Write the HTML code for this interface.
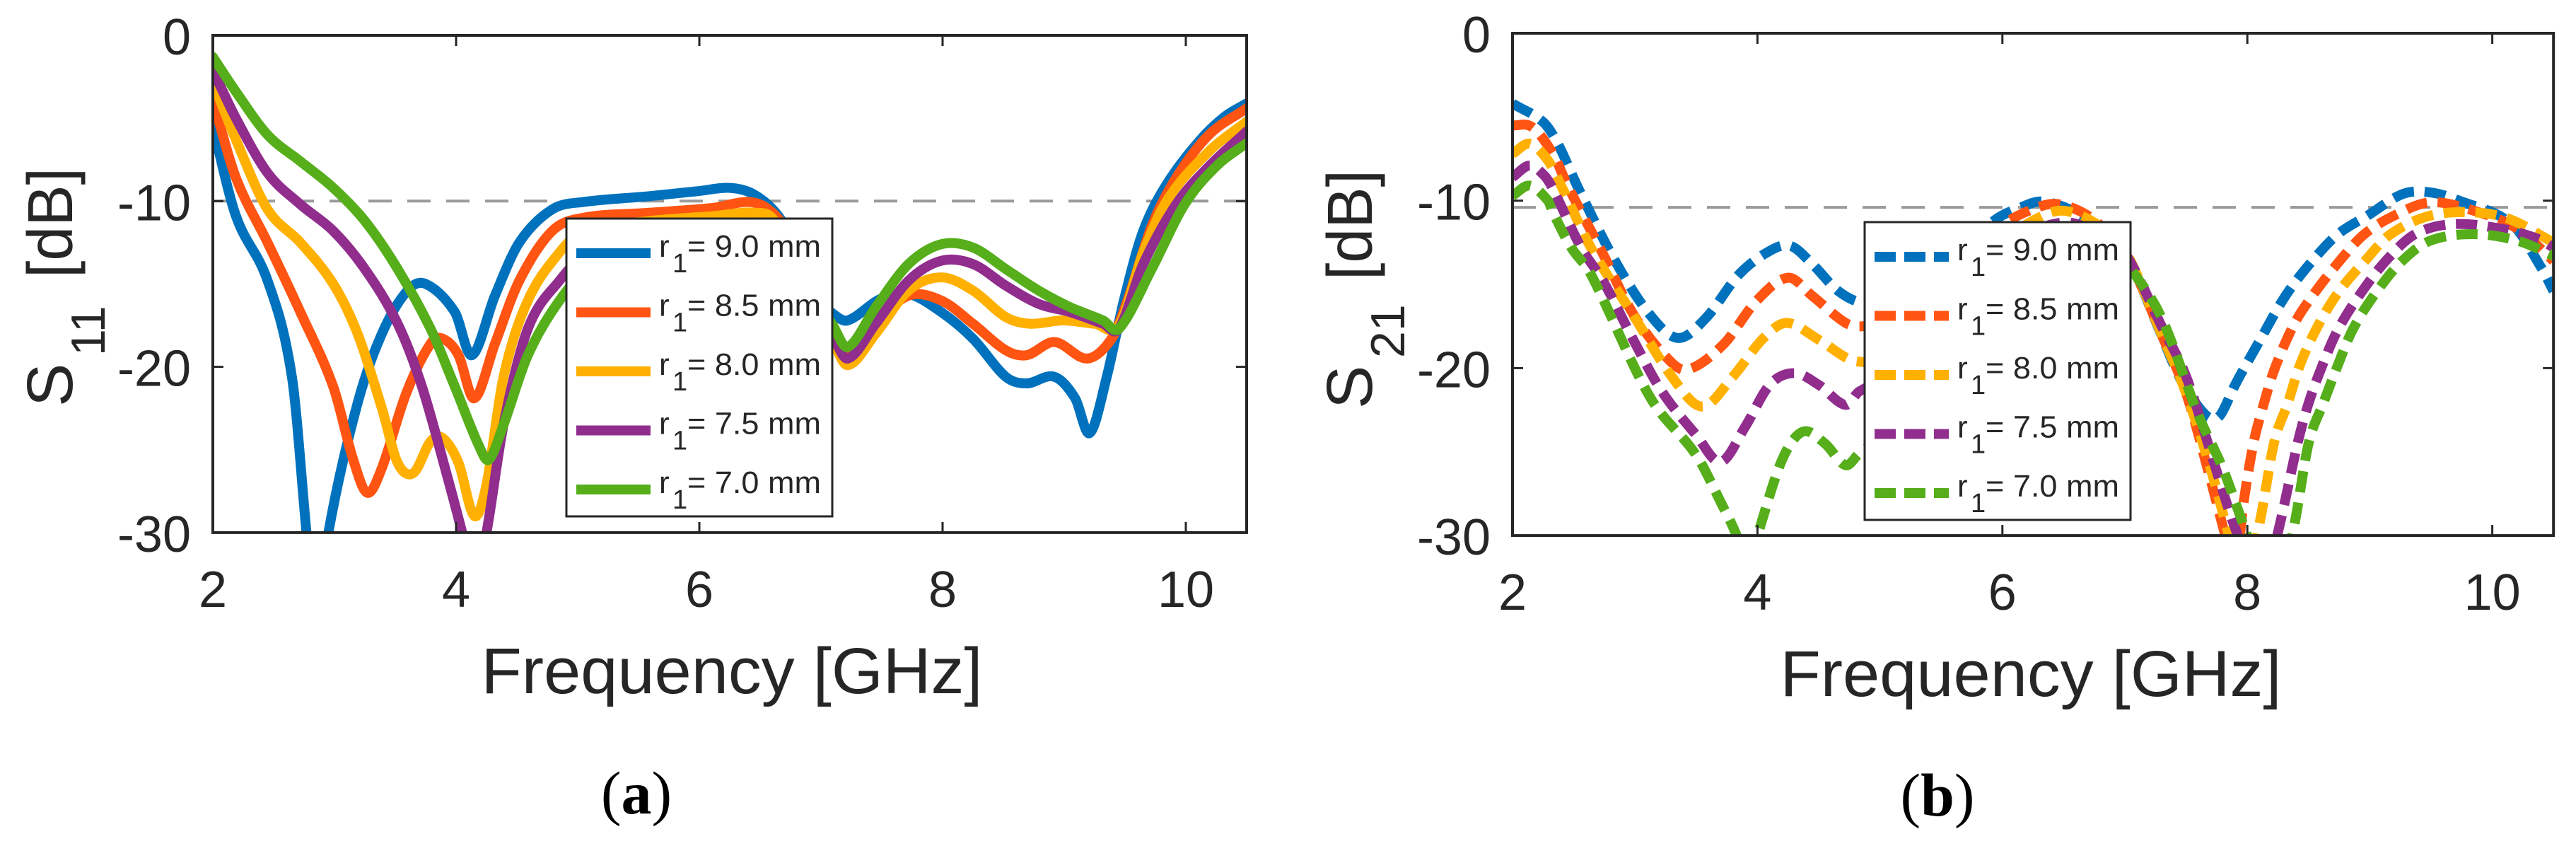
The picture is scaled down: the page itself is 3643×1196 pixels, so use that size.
<!DOCTYPE html>
<html>
<head>
<meta charset="utf-8">
<style>
  html,body{margin:0;padding:0;background:#fff;}
  svg{display:block;}
  text{font-family:"Liberation Sans",Arial,sans-serif;fill:#262626;}
  .cap{font-family:"Liberation Serif","Times New Roman",serif;fill:#000;}
</style>
</head>
<body>
<svg id="fig" xmlns="http://www.w3.org/2000/svg" width="3643" height="1196" viewBox="0 0 3643 1196">
  <rect x="0" y="0" width="3643" height="1196" fill="#fff"/>
  <defs>
    <clipPath id="clipA"><rect x="301" y="50" width="1460" height="703"/></clipPath>
    <clipPath id="clipB"><rect x="2139" y="47" width="1472" height="710"/></clipPath>
  </defs>
  <g id="panelA"></g>
  <g id="panelB"></g>

  <!-- Y axis titles -->
  <g>
    <text transform="translate(102,575) rotate(-90)" font-size="92">S</text>
    <text transform="translate(148,503) rotate(-90)" font-size="68">11</text>
    <text transform="translate(102,393) rotate(-90)" font-size="90" textLength="156" lengthAdjust="spacingAndGlyphs">[dB]</text>
  </g>
  <g>
    <text transform="translate(1940,578) rotate(-90)" font-size="92">S</text>
    <text transform="translate(1986,506) rotate(-90)" font-size="68">21</text>
    <text transform="translate(1940,396) rotate(-90)" font-size="90" textLength="156" lengthAdjust="spacingAndGlyphs">[dB]</text>
  </g>

  <!-- X axis titles -->
  <text x="1035" y="980" font-size="92" text-anchor="middle" textLength="709" lengthAdjust="spacingAndGlyphs">Frequency [GHz]</text>
  <text x="2872" y="984" font-size="92" text-anchor="middle" textLength="709" lengthAdjust="spacingAndGlyphs">Frequency [GHz]</text>

  <!-- captions -->
  <text class="cap" x="900" y="1150" font-size="86" text-anchor="middle">(<tspan font-weight="bold">a</tspan>)</text>
  <text class="cap" x="2740" y="1153" font-size="86" text-anchor="middle">(<tspan font-weight="bold">b</tspan>)</text>
</svg>

<script>
// ---------- Panel (a) S11 data ----------
const labels = ["9.0", "8.5", "8.0", "7.5", "7.0"];
const colors = ["#0072BD", "#FF5412", "#FFB000", "#902D8D", "#55AE1A"];
const xTicks = [2, 4, 6, 8, 10];
const yTicks = [0, -10, -20, -30];

const a90x = [2,2.19,2.45,2.65,2.77,2.85,2.95,3.19,3.39,3.6,3.75,3.99,4.13,4.32,4.52,4.79,5.05,5.59,5.99,6.25,6.45,6.65,6.85,7.0,7.1,7.22,7.49,7.72,7.99,8.25,8.52,8.69,8.92,9.09,9.21,9.35,9.49,9.65,9.85,10.12,10.32,10.5];
const a90y = [-5.5,-10.9,-14.8,-20.6,-30,-36,-30,-22.2,-18,-15.4,-15.0,-16.7,-19.3,-15.7,-12.5,-10.5,-10.05,-9.7,-9.4,-9.2,-9.6,-10.9,-13.5,-16,-16.8,-17.2,-15.9,-15.6,-16.7,-18.3,-20.6,-21,-20.6,-21.9,-24,-20.6,-16,-11.8,-8.9,-6.3,-4.9,-4.1];
const a85x = [2,2.19,2.45,2.72,2.99,3.15,3.27,3.39,3.59,3.79,3.89,4.02,4.15,4.32,4.52,4.79,5.05,5.59,6.12,6.39,6.55,6.72,6.9,7.09,7.22,7.45,7.72,7.99,8.25,8.52,8.69,8.92,9.19,9.39,9.52,9.72,9.92,10.19,10.5];
const a85y = [-3.9,-8.6,-12.5,-16.7,-21.2,-25.5,-27.6,-26.1,-21.6,-18.6,-18.3,-19.3,-21.9,-18.6,-14.8,-11.8,-11,-10.7,-10.4,-10.05,-10.4,-11.8,-15,-18,-19.3,-17.4,-15.7,-16,-17.4,-19,-19.3,-18.5,-19.5,-18.3,-16,-11.5,-8.6,-6,-4.4];
const a80x = [2,2.19,2.45,2.72,2.99,3.19,3.39,3.52,3.65,3.79,3.89,4.02,4.15,4.25,4.39,4.59,4.85,5.05,5.59,6.12,6.45,6.62,6.85,7.09,7.22,7.45,7.72,7.99,8.25,8.52,8.72,8.99,9.25,9.45,9.65,9.85,10.19,10.5];
const a80y = [-2.8,-6.3,-10.5,-12.5,-15,-18,-22.5,-25.8,-26.4,-24.5,-24.3,-25.8,-29,-27.1,-20.6,-16,-13.1,-11.8,-11.2,-10.9,-10.7,-11.2,-15,-18.3,-19.9,-18,-15.4,-14.6,-15.4,-17,-17.4,-17.2,-17.4,-17.5,-13.1,-9.9,-7,-5.2];
const a75x = [2,2.19,2.45,2.72,2.99,3.25,3.52,3.72,3.92,4.05,4.15,4.25,4.39,4.59,4.85,5.1,5.6,6.2,6.6,6.9,7.09,7.22,7.45,7.72,7.99,8.25,8.52,8.79,9.05,9.32,9.45,9.65,9.92,10.19,10.5];
const a75y = [-2.1,-5,-8.3,-10.2,-11.8,-14.1,-17.4,-21.2,-26.4,-30,-33,-30,-23.5,-17.7,-14.8,-13,-11.8,-11.5,-12,-15.5,-18,-19.5,-17.4,-14.8,-13.6,-13.8,-15.1,-16.2,-16.7,-17.4,-17.7,-13.8,-10.2,-7.9,-5.8];
const a70x = [2,2.19,2.45,2.72,2.99,3.25,3.52,3.79,3.99,4.19,4.27,4.39,4.59,4.85,5.1,5.6,6.2,6.6,6.9,7.09,7.22,7.45,7.72,7.99,8.25,8.52,8.79,9.05,9.32,9.45,9.72,9.99,10.25,10.5];
const a70y = [-1.3,-3.4,-6,-7.6,-9.2,-11.2,-14.1,-17.7,-21.2,-24.8,-25.6,-23.5,-19.3,-16,-14,-12.5,-12,-12.5,-15.5,-17.4,-18.8,-16.4,-13.8,-12.6,-12.8,-14.1,-15.4,-16.4,-17.2,-17.7,-14.1,-10.2,-7.9,-6.5];

// ---------- Panel (b) S21 data ----------
const b90x = [2,2.25,2.37,2.54,2.83,3.11,3.35,3.58,3.85,4.1,4.27,4.45,4.66,4.86,5.2,5.6,5.93,6.15,6.33,6.6,6.85,7.04,7.28,7.45,7.6,7.7,7.78,7.9,8.09,8.31,8.53,8.74,8.98,9.27,9.49,9.73,10.16,10.4,10.5];
const b90y = [-4.2,-5.3,-6.6,-9.3,-13.5,-16.7,-18.2,-17,-14.4,-13,-12.7,-13.8,-15.4,-16.1,-16,-13.5,-11.2,-10.4,-10.05,-10.7,-12,-13.6,-17.7,-20.6,-22.3,-23,-22.8,-21,-18.5,-15.7,-13.6,-12,-10.9,-9.6,-9.5,-10,-11.4,-14,-15.4];
const b85x = [2,2.16,2.33,2.45,2.74,2.98,3.25,3.42,3.72,3.99,4.25,4.45,4.72,4.86,5.2,5.6,6.0,6.25,6.45,6.7,6.9,7.04,7.3,7.5,7.69,7.82,7.9,7.97,8.05,8.12,8.22,8.38,8.53,8.72,8.94,9.17,9.49,9.85,10.21,10.5];
const b85y = [-5.5,-5.6,-7.2,-9.1,-13.2,-16.7,-19.3,-20.1,-18.6,-16,-14.6,-15.7,-17.3,-17.5,-17,-14.5,-11.5,-10.5,-10.2,-10.9,-12.2,-13.6,-18,-21.5,-26.4,-30,-32,-28,-24.5,-22.5,-20.1,-17.4,-15.7,-13.9,-12.1,-11,-10.1,-10.6,-11.7,-13.6];
const b80x = [2,2.14,2.29,2.41,2.64,3.0,3.3,3.55,3.8,4.05,4.24,4.5,4.81,5.2,5.6,6.0,6.3,6.5,6.75,6.9,7.04,7.3,7.5,7.7,7.85,7.97,8.05,8.12,8.22,8.33,8.43,8.575,8.74,8.96,9.17,9.49,9.85,10.14,10.5];
const b80y = [-7.2,-6.6,-7.6,-9.3,-12.8,-17,-20.5,-22.3,-20.5,-18.2,-17.3,-18.3,-19.6,-19,-16,-12.5,-11,-10.6,-11.3,-12.3,-13.5,-18,-21.5,-26,-30,-33,-31,-28.5,-24.4,-22.1,-19.8,-17.5,-15.5,-13.6,-12,-10.9,-10.7,-11.1,-12.5];
const b75x = [2,2.14,2.26,2.33,2.56,2.74,3.0,3.22,3.5,3.7,3.9,4.1,4.3,4.5,4.72,4.83,5.2,5.6,6.0,6.5,6.9,7.04,7.3,7.5,7.7,7.85,7.97,8.1,8.26,8.41,8.5,8.62,8.74,8.91,9.13,9.37,9.68,10.09,10.38,10.5];
const b75y = [-8.6,-7.9,-8.5,-9.3,-12.8,-14.8,-18.5,-21.4,-24,-25.6,-23.5,-21,-20.3,-21,-22.2,-21.4,-20,-16.5,-13,-11.3,-12.5,-13.6,-17.5,-20.5,-25,-28.5,-31,-34,-29.5,-24.5,-22.1,-19.7,-17.7,-15.7,-13.6,-12,-11.4,-11.7,-12.3,-12.8];
const b70x = [2,2.14,2.29,2.33,2.48,2.64,3.12,3.5,3.7,3.83,3.92,4.0,4.2,4.37,4.55,4.72,4.83,5.2,5.6,6.0,6.5,6.9,7.04,7.3,7.6,7.8,7.95,8.1,8.22,8.38,8.5,8.62,8.74,8.86,9.03,9.25,9.49,9.85,10.21,10.5];
const b70y = [-9.7,-9.1,-10,-10.7,-12.8,-14.4,-21.7,-25.2,-28,-30,-32,-30,-25.5,-23.8,-24.5,-25.8,-25.1,-23,-18,-14,-12,-13,-14,-17,-22.8,-26,-29,-32,-34,-29.5,-24.5,-22.1,-19.8,-17.7,-15.7,-13.7,-12.4,-12,-12.4,-13.3];

const refLevelA = -10;
const refLevelB = -10.4;

const NS = "http://www.w3.org/2000/svg";
function mk(tag, attrs, parent) {
  const e = document.createElementNS(NS, tag);
  for (const k in attrs) e.setAttribute(k, attrs[k]);
  if (parent) parent.appendChild(e);
  return e;
}

function smoothPath(xs, ys, X, Y) {
  const n = xs.length;
  const m = [];
  for (let i = 0; i < n; i++) {
    if (i === 0) m.push((ys[1] - ys[0]) / (xs[1] - xs[0]));
    else if (i === n - 1) m.push((ys[n-1] - ys[n-2]) / (xs[n-1] - xs[n-2]));
    else m.push((ys[i+1] - ys[i-1]) / (xs[i+1] - xs[i-1]));
  }
  let d = "M" + X(xs[0]).toFixed(1) + "," + Y(ys[0]).toFixed(1);
  for (let i = 0; i < n - 1; i++) {
    const h = xs[i+1] - xs[i];
    const c1x = xs[i] + h / 3, c1y = ys[i] + m[i] * h / 3;
    const c2x = xs[i+1] - h / 3, c2y = ys[i+1] - m[i+1] * h / 3;
    d += " C" + X(c1x).toFixed(1) + "," + Y(c1y).toFixed(1) + " " +
         X(c2x).toFixed(1) + "," + Y(c2y).toFixed(1) + " " +
         X(xs[i+1]).toFixed(1) + "," + Y(ys[i+1]).toFixed(1);
  }
  return d;
}

function drawPanel(g, cfg) {
  const X = v => cfg.x0 + (v - 2) * cfg.kx;
  const Y = v => cfg.top + (-v) * cfg.ky;
  const left = cfg.x0, right = X(10.5), top = cfg.top, bottom = Y(-30);

  // reference line
  const ref = mk("line", {x1: left, x2: right, y1: Y(cfg.ref), y2: Y(cfg.ref),
    stroke: "#9a9a9a", "stroke-width": 4, "stroke-dasharray": "33 22"}, g);
  
  

  // series
  const sg = mk("g", {"clip-path": cfg.clip}, g);
  
  
  cfg.series.forEach((s, i) => {
    const p = mk("path", {d: smoothPath(s[0], s[1], X, Y), fill: "none", stroke: colors[i],
      "stroke-width": 14, "stroke-linejoin": "round",
      "stroke-linecap": cfg.dashed ? "butt" : "round"}, sg);
    if (cfg.dashed) p.setAttribute("stroke-dasharray", "30 15");
    
    
  });

  // legend
  const lg = mk("g", {}, g);
  
  
  mk("rect", {x: cfg.lx, y: cfg.ly, width: 376, height: 421, fill: "#fff",
    stroke: "#262626", "stroke-width": 3}, lg);
  labels.forEach((lab, i) => {
    const base = cfg.ly + 54 + i * 83.5;
    const e = mk("g", {}, lg);
    
    
    const ln = mk("line", {x1: cfg.lx + 14, x2: cfg.lx + 119, y1: base - 5, y2: base - 5,
      stroke: colors[i], "stroke-width": 14}, e);
    if (cfg.dashed) ln.setAttribute("stroke-dasharray", "30 12");
    const t1 = mk("text", {x: cfg.lx + 131, y: base, "font-size": 44}, e);
    t1.textContent = "r";
    const t2 = mk("text", {x: cfg.lx + 150, y: base + 22, "font-size": 38}, e);
    t2.textContent = "1";
    const t3 = mk("text", {x: cfg.lx + 171, y: base, "font-size": 44,
      textLength: 189, lengthAdjust: "spacingAndGlyphs"}, e);
    t3.textContent = "= " + lab + " mm";
  });

  // axes box
  const ax = mk("g", {}, g);
  
  
  mk("rect", {x: left, y: top, width: right - left, height: bottom - top, fill: "none",
    stroke: "#262626", "stroke-width": 4}, ax);
  xTicks.forEach(v => {
    const x = X(v);
    mk("line", {x1: x, x2: x, y1: bottom, y2: bottom - 15, stroke: "#262626", "stroke-width": 3}, ax);
    mk("line", {x1: x, x2: x, y1: top, y2: top + 15, stroke: "#262626", "stroke-width": 3}, ax);
    const t = mk("text", {x: x, y: bottom + 105, "font-size": 72, "text-anchor": "middle"}, ax);
    t.textContent = String(v);
    
    
  });
  yTicks.forEach(v => {
    const y = Y(v);
    mk("line", {x1: left, x2: left + 15, y1: y, y2: y, stroke: "#262626", "stroke-width": 3}, ax);
    mk("line", {x1: right, x2: right - 15, y1: y, y2: y, stroke: "#262626", "stroke-width": 3}, ax);
    const t = mk("text", {x: left - 31, y: y + 27, "font-size": 72, "text-anchor": "end"}, ax);
    t.textContent = String(v);
    
    
  });
}

drawPanel(document.getElementById("panelA"), {
  x0: 301, kx: 172, top: 50, ky: 23.43, ref: refLevelA, clip: "url(#clipA)",
  dashed: false, lx: 801, ly: 309,
  series: [[a90x, a90y], [a85x, a85y], [a80x, a80y], [a75x, a75y], [a70x, a70y]]
});
drawPanel(document.getElementById("panelB"), {
  x0: 2139, kx: 173.2, top: 47, ky: 23.67, ref: refLevelB, clip: "url(#clipB)",
  dashed: true, lx: 2637, ly: 314,
  series: [[b90x, b90y], [b85x, b85y], [b80x, b80y], [b75x, b75y], [b70x, b70y]]
});
</script>
</body>
</html>
